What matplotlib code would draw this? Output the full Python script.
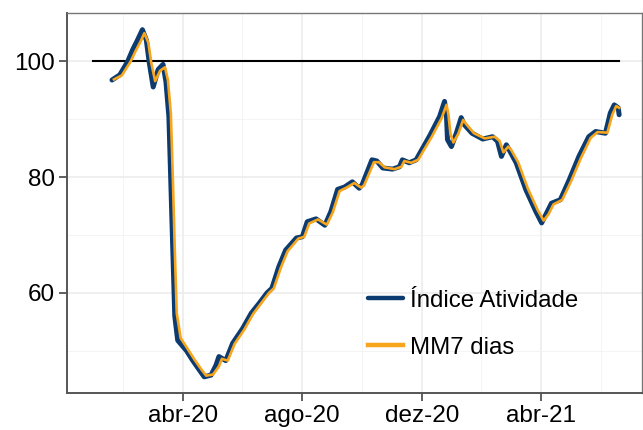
import numpy as np
import pandas as pd
import matplotlib
matplotlib.use('Agg')
import matplotlib.pyplot as plt
import matplotlib.dates as mdates

plt.rcParams['font.family'] = ['Liberation Sans', 'DejaVu Sans']

# indice diario
idx_dates = ['2020-01-20', '2020-01-28', '2020-02-05', '2020-02-10', '2020-02-15',
             '2020-02-20', '2020-02-24', '2020-02-27', '2020-03-02', '2020-03-07',
             '2020-03-12', '2020-03-15', '2020-03-18', '2020-03-20', '2020-03-22',
             '2020-03-24', '2020-03-27', '2020-04-05', '2020-04-11', '2020-04-18',
             '2020-04-23', '2020-04-30', '2020-05-05', '2020-05-08', '2020-05-15',
             '2020-05-22', '2020-06-01', '2020-06-10', '2020-06-18', '2020-06-26',
             '2020-07-01', '2020-07-08', '2020-07-15', '2020-07-26', '2020-08-01',
             '2020-08-06', '2020-08-15', '2020-08-24', '2020-08-30', '2020-09-06',
             '2020-09-13', '2020-09-21', '2020-09-28', '2020-10-01', '2020-10-11',
             '2020-10-16', '2020-10-22', '2020-11-01', '2020-11-08', '2020-11-11',
             '2020-11-18', '2020-11-25', '2020-12-09', '2020-12-19', '2020-12-24',
             '2020-12-26', '2020-12-27', '2020-12-31', '2021-01-05', '2021-01-10',
             '2021-01-13', '2021-01-21', '2021-02-01', '2021-02-11', '2021-02-16',
             '2021-02-20', '2021-02-25', '2021-02-28', '2021-03-07', '2021-03-17',
             '2021-03-27', '2021-04-02', '2021-04-07', '2021-04-12', '2021-04-21',
             '2021-04-30', '2021-05-10', '2021-05-20', '2021-05-27', '2021-06-06',
             '2021-06-11', '2021-06-15', '2021-06-19', '2021-06-20']
idx_vals = [96.8, 97.7, 100.0, 102.0, 103.7,
            105.5, 103.7, 99.8, 95.6, 98.6,
            99.5, 96.5, 90.5, 79.0, 67.4,
            56.0, 51.8, 50.0, 48.4, 46.7,
            45.5, 45.8, 47.5, 49.0, 48.3,
            51.3, 53.8, 56.5, 58.2, 60.0,
            60.8, 64.5, 67.4, 69.5, 69.7,
            72.3, 72.8, 71.7, 74.0, 77.9,
            78.3, 79.2, 78.1, 78.7, 83.0,
            82.8, 81.6, 81.4, 81.8, 83.0,
            82.5, 83.0, 87.2, 90.5, 93.1,
            90.5, 86.5, 85.3, 87.6, 90.3,
            89.1, 87.6, 86.6, 87.0, 86.2,
            83.6, 85.6, 84.7, 82.5, 77.8,
            74.1, 72.1, 73.8, 75.5, 76.1,
            79.5, 83.6, 87.0, 87.9, 87.6,
            91.1, 92.5, 92.0, 90.8]

# media movel 7 dias
mm7_dates = ['2020-01-22', '2020-01-30', '2020-02-08', '2020-02-13', '2020-02-18',
             '2020-02-22', '2020-02-26', '2020-02-29', '2020-03-04', '2020-03-09',
             '2020-03-14', '2020-03-17', '2020-03-20', '2020-03-22', '2020-03-24',
             '2020-03-26', '2020-03-30', '2020-04-07', '2020-04-13', '2020-04-20',
             '2020-04-25', '2020-05-02', '2020-05-08', '2020-05-11', '2020-05-17',
             '2020-05-24', '2020-06-03', '2020-06-12', '2020-06-20', '2020-06-28',
             '2020-07-03', '2020-07-10', '2020-07-17', '2020-07-28', '2020-08-03',
             '2020-08-08', '2020-08-17', '2020-08-26', '2020-09-01', '2020-09-08',
             '2020-09-15', '2020-09-23', '2020-09-30', '2020-10-03', '2020-10-13',
             '2020-10-18', '2020-10-24', '2020-11-03', '2020-11-10', '2020-11-13',
             '2020-11-20', '2020-11-27', '2020-12-11', '2020-12-21', '2020-12-26',
             '2020-12-28', '2020-12-30', '2021-01-02', '2021-01-07', '2021-01-12',
             '2021-01-15', '2021-01-23', '2021-02-03', '2021-02-13', '2021-02-18',
             '2021-02-22', '2021-02-27', '2021-03-02', '2021-03-09', '2021-03-19',
             '2021-03-29', '2021-04-04', '2021-04-09', '2021-04-14', '2021-04-23',
             '2021-05-02', '2021-05-12', '2021-05-22', '2021-05-29', '2021-06-08',
             '2021-06-13', '2021-06-17', '2021-06-20']
mm7_vals = [96.9, 97.6, 100.0, 101.8, 103.4,
            104.9, 103.3, 99.8, 96.6, 98.4,
            99.0, 96.8, 91.0, 80.0, 67.4,
            56.5, 52.2, 50.1, 48.5, 46.8,
            45.7, 45.9, 47.3, 48.6, 48.3,
            51.2, 53.7, 56.4, 58.2, 60.0,
            60.8, 64.3, 67.2, 69.4, 69.7,
            72.0, 72.7, 71.8, 73.9, 77.6,
            78.2, 79.0, 78.2, 78.6, 82.6,
            82.6, 81.7, 81.4, 81.8, 82.8,
            82.5, 83.0, 87.0, 90.2, 92.5,
            90.8, 87.5, 86.0, 87.5, 89.9,
            89.2, 87.6, 86.7, 87.0, 86.3,
            84.3, 85.3, 84.7, 82.6, 78.0,
            74.3, 72.5, 73.6, 75.3, 76.1,
            79.3, 83.3, 86.8, 87.8, 87.7,
            90.8, 92.3, 92.0]

ref_level = 100
ref_span = ['2020-01-01', '2021-06-20']

tick_dates = ['2020-04-01', '2020-08-01', '2020-12-01', '2021-04-01']
tick_labels = ['abr-20', 'ago-20', 'dez-20', 'abr-21']

idx_t = pd.to_datetime(idx_dates)
mm7_t = pd.to_datetime(mm7_dates)

fig = plt.figure(figsize=(6.43, 4.30), dpi=100)
ax = fig.add_axes([0.104, 0.086, 0.894, 0.884])

ax.plot(pd.to_datetime(ref_span), [ref_level, ref_level], color='black', lw=1.5, zorder=2)
ax.plot(idx_t, idx_vals, color='#0b3b6f', lw=3.6, label='Índice Atividade',
        solid_joinstyle='round', solid_capstyle='round', zorder=3)
ax.plot(mm7_t, mm7_vals, color='#f7a51c', lw=1.9, label='MM7 dias',
        solid_joinstyle='round', zorder=4)

ax.set_xlim(pd.Timestamp('2019-12-05'), pd.Timestamp('2021-07-13'))
ax.set_ylim(42.7, 108.4)

# eixos
tk = pd.to_datetime(tick_dates)
ax.set_xticks(tk)
ax.set_xticklabels(tick_labels)
minor_x = [pd.Timestamp('2020-01-31'), pd.Timestamp('2020-06-01'), pd.Timestamp('2020-10-01'),
           pd.Timestamp('2021-01-30'), pd.Timestamp('2021-06-01')]
ax.set_xticks(minor_x, minor=True)
ax.set_yticks([60, 80, 100])
ax.set_yticks([50, 70, 90], minor=True)

ax.grid(which='major', color='#ebebeb', lw=1.1, zorder=0)
ax.grid(which='minor', color='#f2f2f2', lw=0.6, zorder=0)
ax.set_axisbelow(True)

ax.tick_params(which='major', length=5.5, width=1.1, color='#333333', labelsize=17.5,
               labelcolor='black', pad=3)
ax.tick_params(which='minor', length=0)
for s in ax.spines.values():
    s.set_color('#777777')
    s.set_linewidth(1.0)
ax.spines['left'].set_color('#555555')
ax.spines['bottom'].set_color('#555555')
ax.spines['left'].set_linewidth(1.4)
ax.spines['bottom'].set_linewidth(1.4)

leg = ax.legend(loc='lower left', bbox_to_anchor=(0.487, 0.033), frameon=False,
                fontsize=17.3, handlelength=1.45, handletextpad=0.3, labelspacing=1.05)
for h in leg.get_lines():
    h.set_linewidth(3.2)

fig.savefig('out.png', dpi=100)
